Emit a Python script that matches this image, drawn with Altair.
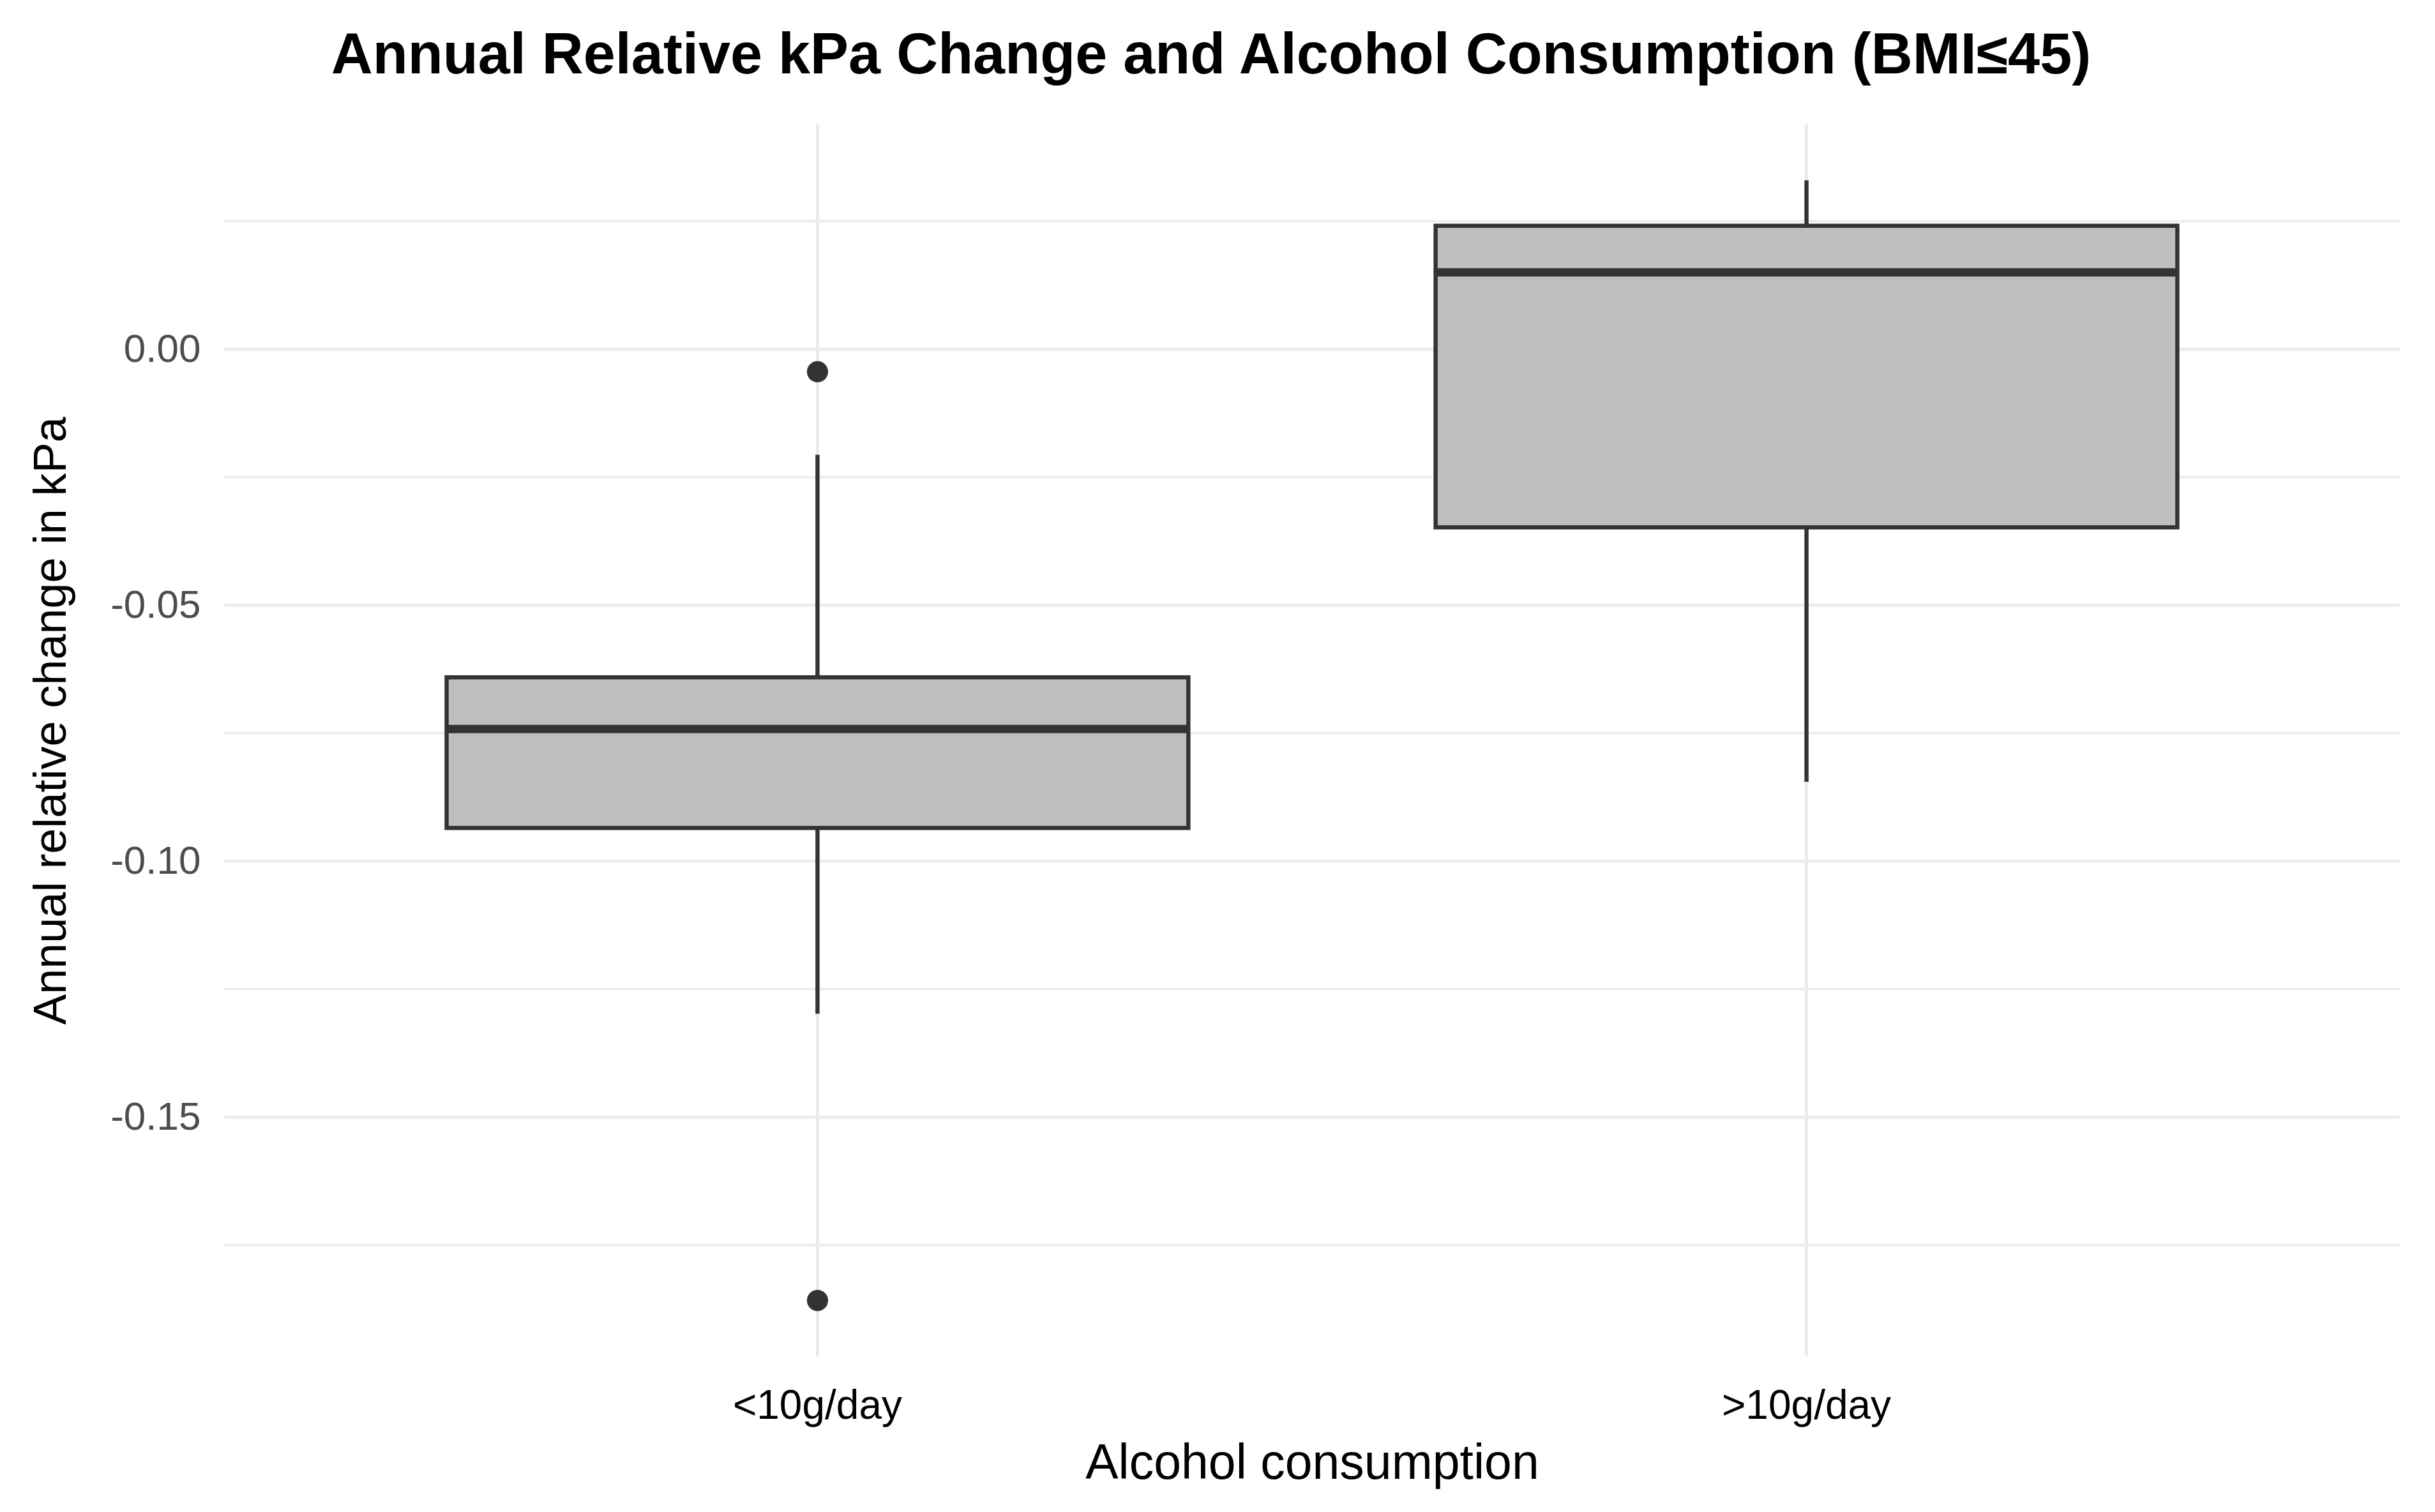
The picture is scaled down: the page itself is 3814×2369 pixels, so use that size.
import altair as alt
import pandas as pd

# ---- data ----
groups = ["<10g/day", ">10g/day"]
lower_whisker = [-0.1298, -0.0845]
q1 = [-0.0935, -0.0348]
median = [-0.0742, 0.0150]
q3 = [-0.0641, 0.0241]
upper_whisker = [-0.0206, 0.0330]

outlier_group = ["<10g/day", "<10g/day"]
outlier_value = [-0.0044, -0.1858]

major_ticks = [0.00, -0.05, -0.10, -0.15]
minor_ticks = [0.025, -0.025, -0.075, -0.125, -0.175]

y_domain = [-0.1967, 0.0439]

box_df = pd.DataFrame({
    "group": groups, "lo": lower_whisker, "q1": q1,
    "med": median, "q3": q3, "hi": upper_whisker,
})
out_df = pd.DataFrame({"group": outlier_group, "value": outlier_value})
major_df = pd.DataFrame({"v": major_ticks})
minor_df = pd.DataFrame({"v": minor_ticks})
cat_df = pd.DataFrame({"group": groups})

FONT = "Liberation Sans"
DARK = "#333333"
GRID = "#EBEBEB"

x_scale = alt.Scale(domain=groups, paddingInner=0, paddingOuter=0.1)
y_scale = alt.Scale(domain=y_domain, nice=False, zero=False)

x_enc = alt.X(
    "group:N", scale=x_scale, sort=groups,
    axis=alt.Axis(
        title="Alcohol consumption", grid=False, domain=False, ticks=False,
        tickSize=0, labelAngle=0, labelFont=FONT, labelFontSize=64,
        labelColor="black", labelPadding=97, labelBaseline="alphabetic",
        labelLimit=2000,
        titleFont=FONT, titleFontSize=77, titleFontWeight="normal",
        titleColor="black", titleY=191, titleBaseline="alphabetic",
    ),
)

y_axis = alt.Axis(
    title="Annual relative change in kPa", values=major_ticks, format=".2f",
    labelExpr="replace(datum.label, '\u2212', '-')",
    grid=False, domain=False, ticks=False, tickSize=0,
    labelFont=FONT, labelFontSize=62, labelColor="#4D4D4D", labelPadding=37,
    titleFont=FONT, titleFontSize=72, titleFontWeight="normal",
    titleColor="black", titleX=-249, titleY=934, titleBaseline="alphabetic",
)

minor_grid = alt.Chart(minor_df).mark_rule(color=GRID, strokeWidth=3.5).encode(
    y=alt.Y("v:Q", scale=y_scale, axis=y_axis)
)
major_grid = alt.Chart(major_df).mark_rule(color=GRID, strokeWidth=5).encode(
    y=alt.Y("v:Q", scale=y_scale)
)
vert_grid = alt.Chart(cat_df).mark_rule(color=GRID, strokeWidth=5).encode(
    x=x_enc
)

whisker = alt.Chart(box_df).mark_rule(color=DARK, strokeWidth=6.5).encode(
    x=x_enc,
    y=alt.Y("lo:Q", scale=y_scale),
    y2="hi:Q",
)
box = alt.Chart(box_df).mark_bar(
    width={"band": 0.75}, fill="#BEBEBE", stroke=DARK, strokeWidth=6.5
).encode(
    x=x_enc,
    y=alt.Y("q1:Q", scale=y_scale),
    y2="q3:Q",
)
med = alt.Chart(box_df).mark_tick(
    color=DARK, thickness=13, size=1162, orient="horizontal", opacity=1
).encode(
    x=x_enc,
    y=alt.Y("med:Q", scale=y_scale),
)
outliers = alt.Chart(out_df).mark_circle(color=DARK, size=1100, opacity=1).encode(
    x=x_enc,
    y=alt.Y("value:Q", scale=y_scale),
)

chart = alt.layer(
    minor_grid, major_grid, vert_grid, whisker, box, med, outliers
).properties(
    width=3408,
    height=1930,
    title=alt.Title(
        text="Annual Relative kPa Change and Alcohol Consumption (BMI\u226445)",
        font=FONT, fontSize=90, fontWeight="bold", color="black",
        anchor="middle", frame="group", dx=-158, dy=89, baseline="alphabetic",
        offset=77,
    ),
    autosize=alt.AutoSizeParams(type="none"),
    padding={"left": 343, "top": 187, "right": 47, "bottom": 236},
    background="white",
).configure_view(stroke=None)

chart.save("out.html", embed_options={"renderer": "svg", "actions": False})
